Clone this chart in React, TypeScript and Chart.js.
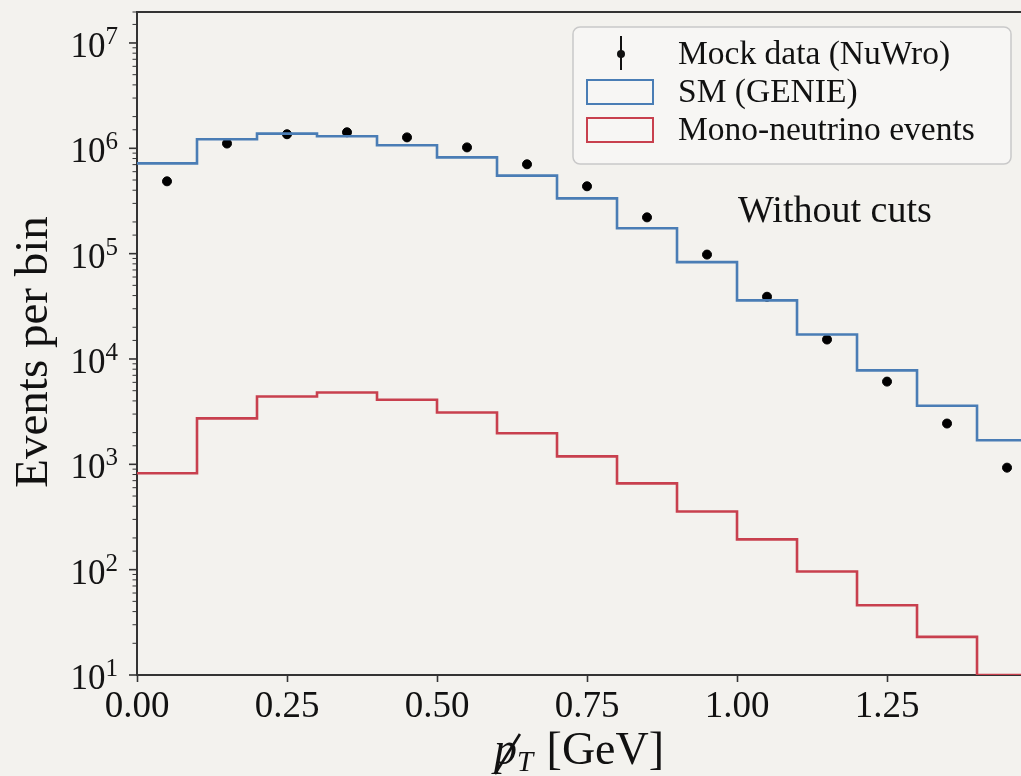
import React, { useEffect, useRef } from 'react';
import { Chart, registerables } from 'chart.js';

Chart.register(...registerables);

// ---- data ----
const binEdges = [0, 0.1, 0.2, 0.3, 0.4, 0.5, 0.6, 0.7, 0.8, 0.9, 1.0, 1.1, 1.2, 1.3, 1.4, 1.5];
const binCenters = [0.05, 0.15, 0.25, 0.35, 0.45, 0.55, 0.65, 0.75, 0.85, 0.95, 1.05, 1.15, 1.25, 1.35, 1.45];
const smGenie = [7.2e5, 1.22e6, 1.38e6, 1.3e6, 1.07e6, 8.2e5, 5.5e5, 3.35e5, 1.74e5, 8.3e4, 3.6e4, 1.71e4, 7.8e3, 3.6e3, 1.69e3];
const monoNeutrino = [822, 2730, 4400, 4800, 4100, 3100, 1970, 1190, 660, 357, 194, 96, 46, 23, 10];
const mockData = [4.86e5, 1.11e6, 1.36e6, 1.42e6, 1.27e6, 1.02e6, 7.05e5, 4.36e5, 2.21e5, 9.8e4, 3.9e4, 1.53e4, 6.1e3, 2.44e3, 9.3e2];
const xTickValues = [0, 0.25, 0.5, 0.75, 1.0, 1.25];
const legendLabels = ['Mock data (NuWro)', 'SM (GENIE)', 'Mono-neutrino events'];
const annotationText = 'Without cuts';
const yTitle = 'Events per bin';

const BLUE = '#4a7db5';
const RED = '#c8404e';
const BG = '#f3f2ee';
const AXIS = '#333333';
const SERIF = "'Liberation Serif', 'DejaVu Serif', serif";
const PLOT_LEFT = 137;

const stepPoints = (vals: number[]) =>
  binEdges.map((e, i) => ({ x: e, y: vals[Math.min(i, vals.length - 1)] }));

const overlay = {
  id: 'overlay',
  beforeDraw(chart: any) {
    const { ctx, width, height } = chart;
    ctx.save();
    ctx.fillStyle = BG;
    ctx.fillRect(0, 0, width, height);
    ctx.restore();
  },
  afterDraw(chart: any) {
    const { ctx, chartArea } = chart;
    const ys = chart.scales.y;
    ctx.save();
    // top spine
    ctx.strokeStyle = AXIS;
    ctx.lineWidth = 2;
    ctx.beginPath();
    ctx.moveTo(chartArea.left - 1, chartArea.top);
    ctx.lineTo(chart.width, chartArea.top);
    ctx.stroke();

    // y ticks (major + minor) and labels
    ys.ticks.forEach((t: any) => {
      const v = t.value;
      if (v < ys.min || v > ys.max) return;
      const lg = Math.log10(v);
      const major = Math.abs(lg - Math.round(lg)) < 1e-6;
      const py = ys.getPixelForValue(v);
      ctx.strokeStyle = AXIS;
      ctx.lineWidth = major ? 1.6 : 1;
      ctx.beginPath();
      ctx.moveTo(chartArea.left, py);
      ctx.lineTo(chartArea.left - (major ? 8 : 4.5), py);
      ctx.stroke();
      if (major) {
        const exp = String(Math.round(lg));
        ctx.fillStyle = '#151515';
        ctx.font = `25px ${SERIF}`;
        ctx.textAlign = 'left';
        ctx.textBaseline = 'alphabetic';
        const ew = ctx.measureText(exp).width;
        const ex = chartArea.left - 19 - ew;
        ctx.fillText(exp, ex, py + 1);
        ctx.font = `35px ${SERIF}`;
        ctx.textAlign = 'right';
        ctx.fillText('10', ex, py + 14);
      }
    });

    // y title
    ctx.save();
    ctx.translate(35, 352);
    ctx.rotate(-Math.PI / 2);
    ctx.font = `47px ${SERIF}`;
    ctx.fillStyle = '#111';
    ctx.textAlign = 'center';
    ctx.textBaseline = 'middle';
    ctx.fillText(yTitle, 0, 0);
    ctx.restore();

    // x title: p-slash_T [GeV]
    {
      const base = 764;
      const cx = (chartArea.left + chartArea.right) / 2;
      ctx.fillStyle = '#111';
      ctx.textAlign = 'left';
      ctx.textBaseline = 'alphabetic';
      ctx.font = `italic 46px ${SERIF}`;
      const pw = ctx.measureText('p').width;
      ctx.font = `italic 29px ${SERIF}`;
      const tw = ctx.measureText('T').width;
      ctx.font = `46px ${SERIF}`;
      const gw = ctx.measureText(' [GeV]').width;
      const total = pw + tw + 2 + gw;
      let x0 = cx - total / 2;
      ctx.font = `italic 46px ${SERIF}`;
      ctx.fillText('p', x0, base);
      ctx.strokeStyle = '#111';
      ctx.lineWidth = 2.6;
      ctx.beginPath();
      ctx.moveTo(x0 + 1, base + 10);
      ctx.lineTo(x0 + pw + 3, base - 30);
      ctx.stroke();
      x0 += pw;
      ctx.font = `italic 29px ${SERIF}`;
      ctx.fillText('T', x0, base + 7);
      x0 += tw + 2;
      ctx.font = `46px ${SERIF}`;
      ctx.fillText(' [GeV]', x0, base);
    }

    // annotation
    ctx.font = `38px ${SERIF}`;
    ctx.fillStyle = '#111';
    ctx.textAlign = 'left';
    ctx.textBaseline = 'middle';
    ctx.fillText(annotationText, 738, 212);

    // legend
    const lx = 573, ly = 27, lw = 438, lh = 137;
    ctx.beginPath();
    ctx.roundRect(lx, ly, lw, lh, 7);
    ctx.fillStyle = 'rgba(255,255,255,0.35)';
    ctx.fill();
    ctx.strokeStyle = '#c9c9c9';
    ctx.lineWidth = 1.5;
    ctx.stroke();
    const rows = [54, 92, 130];
    const ds = chart.data.datasets;
    const order = [2, 0, 1];
    order.forEach((di, r) => {
      const d = ds[di];
      const cy = rows[r];
      if (d.type === 'scatter') {
        ctx.strokeStyle = '#111';
        ctx.lineWidth = 2;
        ctx.beginPath();
        ctx.moveTo(621, cy - 18);
        ctx.lineTo(621, cy + 16);
        ctx.stroke();
        ctx.fillStyle = '#111';
        ctx.beginPath();
        ctx.arc(621, cy, 4, 0, Math.PI * 2);
        ctx.fill();
      } else {
        ctx.strokeStyle = d.borderColor;
        ctx.lineWidth = 2;
        ctx.strokeRect(587, cy - 12, 66, 24);
      }
      ctx.font = `33.5px ${SERIF}`;
      ctx.fillStyle = '#111';
      ctx.textAlign = 'left';
      ctx.textBaseline = 'middle';
      ctx.fillText(d.label, 678, cy + 1);
    });
    ctx.restore();
  },
};

export default function App() {
  const ref = useRef<HTMLCanvasElement | null>(null);
  useEffect(() => {
    if (!ref.current) return;
    const chart = new Chart(ref.current, {
      type: 'line',
      data: {
        datasets: [
          {
            type: 'line',
            label: legendLabels[1],
            data: stepPoints(smGenie),
            borderColor: BLUE,
            borderWidth: 2.6,
            stepped: true,
            pointRadius: 0,
            fill: false,
          },
          {
            type: 'line',
            label: legendLabels[2],
            data: stepPoints(monoNeutrino),
            borderColor: RED,
            borderWidth: 2.6,
            stepped: true,
            pointRadius: 0,
            fill: false,
          },
          {
            type: 'scatter',
            label: legendLabels[0],
            data: binCenters.map((x, i) => ({ x, y: mockData[i] })),
            backgroundColor: '#000',
            borderColor: '#000',
            pointRadius: 4.5,
            showLine: false,
          },
        ] as any,
      },
      options: {
        animation: false,
        responsive: false,
        devicePixelRatio: 1,
        layout: { autoPadding: false, padding: { top: 12, right: 0, left: 0, bottom: 0 } },
        plugins: { legend: { display: false }, tooltip: { enabled: false } },
        scales: {
          x: {
            type: 'linear',
            min: 0,
            max: 1.4733,
            afterBuildTicks: (s: any) => {
              s.ticks = xTickValues.map((v) => ({ value: v }));
            },
            afterFit: (s: any) => {
              s.height = 101;
              s.paddingLeft = 0;
              s.paddingRight = 0;
            },
            ticks: {
              includeBounds: false,
              autoSkip: false,
              maxRotation: 0,
              padding: 3,
              color: '#111',
              font: { family: SERIF, size: 37 },
              callback: (v: any) => Number(v).toFixed(2),
            },
            grid: {
              display: true,
              drawOnChartArea: false,
              drawTicks: true,
              tickLength: 7,
              tickColor: AXIS,
              tickWidth: 1.6,
            },
            border: { display: true, color: AXIS, width: 2 },
          },
          y: {
            type: 'logarithmic',
            min: 10,
            max: 1.968e7,
            afterFit: (s: any) => {
              s.width = PLOT_LEFT;
              s.paddingTop = 0;
              s.paddingBottom = 0;
            },
            ticks: { display: false },
            grid: { display: false },
            border: { display: true, color: AXIS, width: 2 },
          },
        },
      } as any,
      plugins: [overlay],
    });
    return () => chart.destroy();
  }, []);
  return (
    <div style={{ position: 'fixed', left: 0, top: 0, width: 1021, height: 776, overflow: 'hidden', background: BG }}>
      <canvas ref={ref} width={1021} height={776} style={{ width: 1021, height: 776, display: 'block' }} />
    </div>
  );
}
